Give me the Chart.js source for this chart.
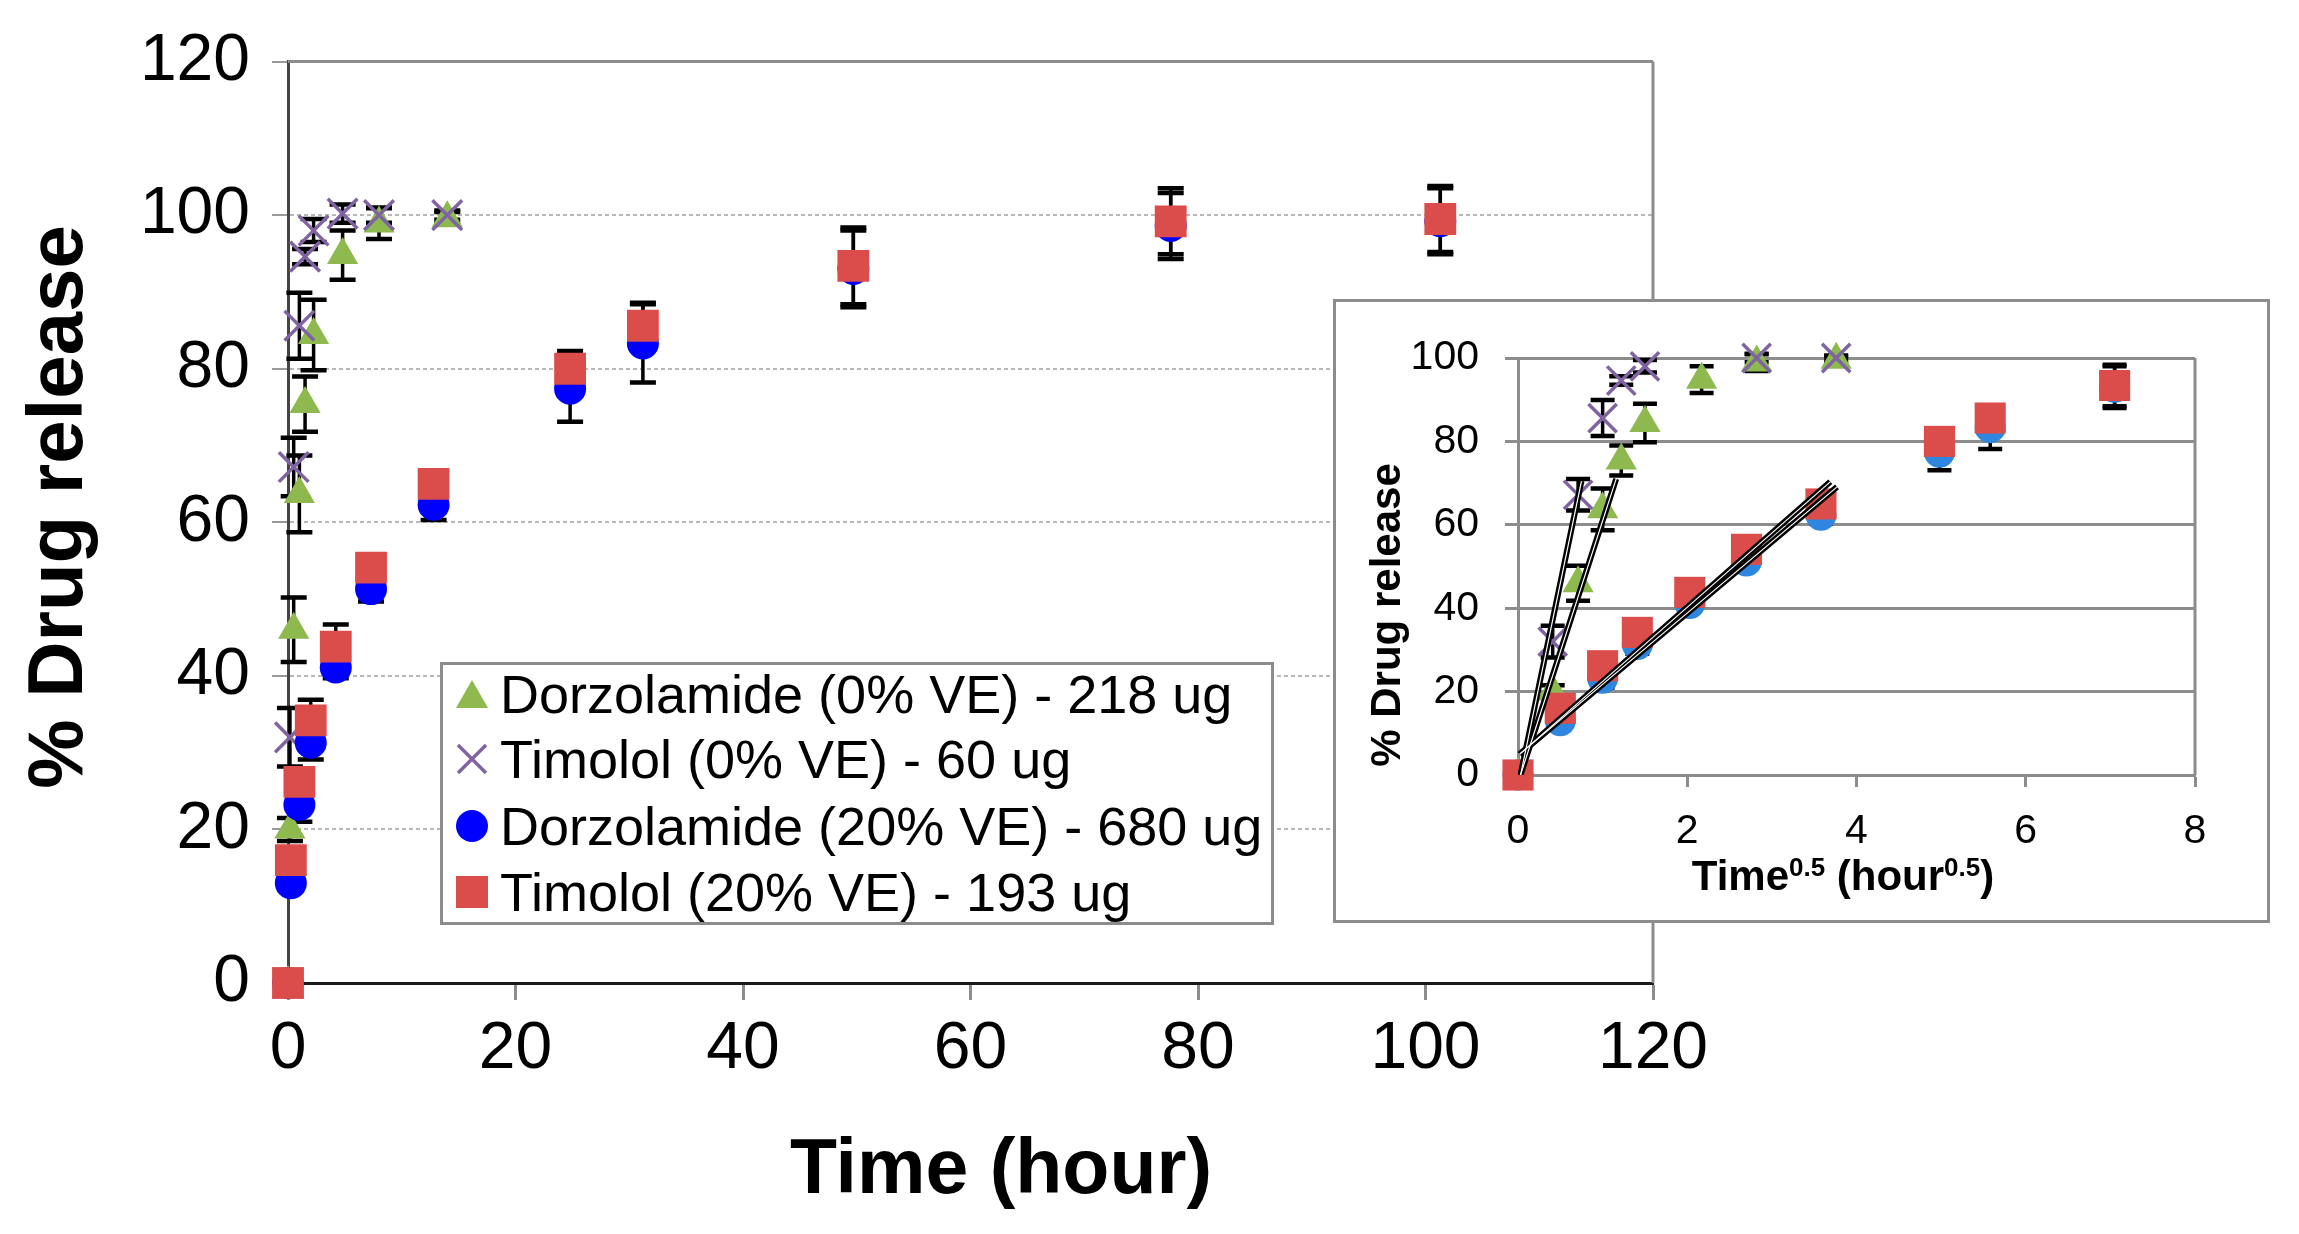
<!DOCTYPE html>
<html>
<head>
<meta charset="utf-8">
<title>% Drug release</title>
<script src="https://cdn.jsdelivr.net/npm/chart.js@4.4.1/dist/chart.umd.min.js"></script>
<style>
  html, body { margin: 0; padding: 0; background: #fff; }
  body { width: 2299px; height: 1234px; position: relative; overflow: hidden;
         font-family: "Liberation Sans", Arial, sans-serif; }
  #mainChart { position: absolute; left: 0; top: 0; }
  #insetBox { position: absolute; left: 1333px; top: 299px; width: 931px; height: 618px;
              border: 3px solid #8c8c8c; background: #fff; }
  #insetChart { display: block; }
  #legend { position: absolute; left: 440px; top: 662px; width: 828px; height: 257px;
            border: 3px solid #8c8c8c; background: #fff; }
  .row { position: absolute; left: 0; height: 66px; line-height: 66px; font-size: 54px;
         color: #000; white-space: nowrap; }
  .row svg { position: absolute; left: 11px; top: 15px; }
  .row span { position: absolute; left: 57px; }
</style>
</head>
<body>
<canvas id="mainChart" width="2299" height="1234"></canvas>
<div id="legend"></div>
<div id="insetBox"><canvas id="insetChart" width="931" height="618"></canvas></div>

<script>
// Series names (legend text)
const seriesNames = [
    'Dorzolamide (0% VE) - 218 ug',
    'Timolol (0% VE) - 60 ug',
    'Dorzolamide (20% VE) - 680 ug',
    'Timolol (20% VE) - 193 ug'
];

// 0% VE lenses: sampling times (hour)
const time0 = [0, 0.17, 0.5, 1, 1.5, 2.25, 4.8, 8, 14];
const dorzolamide0 = [0, 20, 46, 63.7, 75.4, 84.4, 94.8, 98.9, 99.6];
const dorzolamide0Err = [0, 1.5, 4.2, 5, 3.6, 4.6, 3.2, 2, 0.8];
const timolol0 = [0, 32, 67.2, 85.6, 94.6, 98, 100.2, 100, 100];
const timolol0Err = [0, 3.8, 3.8, 4.3, 1, 1.5, 1.2, 1, 0.6];

// 20% VE lenses: sampling times (hour)
const time20 = [0, 0.25, 1, 2, 4.2, 7.3, 12.8, 24.8, 31.2, 49.7, 77.6, 101.3];
const dorzolamide20 = [0, 13, 23.2, 31.3, 41.1, 51.3, 62.3, 77.4, 83.3, 93, 98.6, 99.2];
const dorzolamide20Err = [0, 1, 2.2, 2.2, 1.4, 1.6, 2, 4.3, 5.1, 5, 4.3, 4.3];
const timolol20 = [0, 16, 26.2, 34.2, 43.8, 54.1, 65, 80, 85.6, 93.4, 99.2, 99.5];
const timolol20Err = [0, 1, 1.5, 2.7, 2.9, 1, 1, 2.3, 3, 5, 4.3, 4.3];

// Inset: square-root time axis (hour^0.5)
const rootTime0 = [0, 0.41, 0.71, 1.0, 1.22, 1.5, 2.17, 2.82, 3.76];
const timolol0Inset = [0, 32, 67.2, 85.6, 94.6, 98, null, 100, 100];
const rootTime20 = [0, 0.5, 1.0, 1.41, 2.03, 2.7, 3.58, 4.98, 5.58, 7.05];

// Inset linear fits: [x, y] end points
const fitTimolol0 = [[0.03, 0], [0.75, 70.5]];
const fitDorzolamide0 = [[0.03, 0], [1.16, 71]];
const fitTimolol20 = [[0.02, 5], [3.69, 70.3]];
const fitDorzolamide20 = [[0.02, 5], [3.77, 69.1]];

// Axis ticks
const mainTicksX = [0, 120, 20];
const mainTicksY = [0, 120, 20];
const insetTicksX = [0, 8, 2];
const insetTicksY = [0, 100, 20];

const FONT = '"Liberation Sans", Arial, sans-serif';
const GREEN = '#8DB94E';
const PURPLE = '#8064A2';
const BLUE = '#0000FF';
const INSET_BLUE = '#2E86DE';
const RED = '#DB4D4B';

Chart.defaults.font.family = FONT;

// Build {x, y} points from two arrays
function points(xs, ys) {
    return xs.map((x, i) => ({ x: x, y: ys[i] }));
}

// Error bars drawn behind the markers
const errorBarPlugin = {
    id: 'errorBars',
    beforeDatasetsDraw(chart, args, opts) {
        const { ctx } = chart;
        const xs = chart.scales.x, ys = chart.scales.y;
        ctx.save();
        ctx.strokeStyle = '#000';
        chart.data.datasets.forEach(ds => {
            if (!ds.errorBars) return;
            ds.data.forEach((p, i) => {
                const e = ds.errorBars[i];
                if (p.y == null || !e) return;
                const px = xs.getPixelForValue(p.x);
                const top = ys.getPixelForValue(p.y + e);
                const bot = ys.getPixelForValue(p.y - e);
                ctx.lineWidth = opts.stem;
                ctx.beginPath();
                ctx.moveTo(px, top);
                ctx.lineTo(px, bot);
                ctx.stroke();
                ctx.lineWidth = opts.cap;
                ctx.beginPath();
                ctx.moveTo(px - opts.half, top);
                ctx.lineTo(px + opts.half, top);
                ctx.moveTo(px - opts.half, bot);
                ctx.lineTo(px + opts.half, bot);
                ctx.stroke();
            });
        });
        ctx.restore();
    }
};

// Top / right plot border lines
const framePlugin = {
    id: 'plotFrame',
    beforeDatasetsDraw(chart, args, opts) {
        const { ctx, chartArea: a } = chart;
        ctx.save();
        ctx.strokeStyle = opts.color;
        ctx.lineWidth = opts.width;
        ctx.beginPath();
        if (opts.top) {
            ctx.moveTo(a.left, a.top);
            ctx.lineTo(a.right, a.top);
        }
        ctx.moveTo(a.right, a.top);
        ctx.lineTo(a.right, a.bottom);
        ctx.stroke();
        ctx.restore();
    }
};

// Axis titles (allow superscripts and free placement)
const axisTitlePlugin = {
    id: 'axisTitles',
    afterDraw(chart, args, opts) {
        const ctx = chart.ctx;
        (opts.items || []).forEach(item => {
            ctx.save();
            ctx.translate(item.x, item.y);
            ctx.rotate(item.rotate || 0);
            ctx.fillStyle = '#000';
            ctx.textBaseline = 'alphabetic';
            let total = 0;
            item.parts.forEach(p => {
                ctx.font = p.font;
                total += ctx.measureText(p.text).width;
            });
            let cx = -total / 2;
            item.parts.forEach(p => {
                ctx.font = p.font;
                ctx.fillText(p.text, cx, -(p.rise || 0));
                cx += ctx.measureText(p.text).width;
            });
            ctx.restore();
        });
    }
};

// Main chart
new Chart(document.getElementById('mainChart'), {
    type: 'scatter',
    data: {
        datasets: [
            {
                label: seriesNames[3], data: points(time20, timolol20), errorBars: timolol20Err,
                order: 1, pointStyle: 'rect', pointRadius: 22.5,
                backgroundColor: RED, borderColor: RED, borderWidth: 0, clip: false
            },
            {
                label: seriesNames[2], data: points(time20, dorzolamide20), errorBars: dorzolamide20Err,
                order: 2, pointStyle: 'circle', pointRadius: 16,
                backgroundColor: BLUE, borderColor: BLUE, borderWidth: 0, clip: false
            },
            {
                label: seriesNames[1], data: points(time0, timolol0), errorBars: timolol0Err,
                order: 3, pointStyle: 'crossRot', pointRadius: 21,
                backgroundColor: PURPLE, borderColor: PURPLE, borderWidth: 3.5, clip: false
            },
            {
                label: seriesNames[0], data: points(time0, dorzolamide0), errorBars: dorzolamide0Err,
                order: 4, pointStyle: 'triangle', pointRadius: 18,
                backgroundColor: GREEN, borderColor: GREEN, borderWidth: 0, clip: false
            }
        ]
    },
    options: {
        responsive: false,
        devicePixelRatio: 1,
        animation: false,
        layout: { padding: { top: 57, right: 646, left: 0, bottom: 0 } },
        plugins: {
            legend: { display: false },
            tooltip: { enabled: false },
            errorBars: { stem: 3.5, cap: 4.5, half: 13 },
            plotFrame: { top: true, color: '#8c8c8c', width: 3 },
            axisTitles: {
                items: [
                    { x: 1001, y: 1193, parts: [{ text: 'Time (hour)', font: 'bold 77px ' + FONT }] },
                    { x: 82, y: 507, rotate: -Math.PI / 2,
                      parts: [{ text: '% Drug release', font: 'bold 78px ' + FONT }] }
                ]
            }
        },
        scales: {
            x: {
                type: 'linear', min: mainTicksX[0], max: mainTicksX[1],
                ticks: { stepSize: mainTicksX[2], color: '#000', font: { size: 66 }, padding: 10, maxRotation: 0 },
                grid: { drawOnChartArea: false, tickLength: 17, tickColor: '#8c8c8c', tickWidth: 3 },
                border: { color: '#1a1a1a', width: 3 },
                afterFit: s => { s.height = 251; }
            },
            y: {
                type: 'linear', min: mainTicksY[0], max: mainTicksY[1],
                ticks: { stepSize: mainTicksY[2], color: '#000', font: { size: 66 }, padding: 22 },
                grid: { color: '#b8b8b8', lineWidth: 2, tickLength: 16, tickColor: '#9a9a9a', tickWidth: 2 },
                border: { color: '#444', width: 3, dash: [4, 3] },
                afterFit: s => { s.width = 288; }
            }
        }
    },
    plugins: [errorBarPlugin, framePlugin, axisTitlePlugin]
});

// Inset chart (square-root time)
const fitStyle = (pts, width, color, order) => ({
    type: 'line', data: pts.map(p => ({ x: p[0], y: p[1] })), showLine: true,
    borderColor: color, borderWidth: width, pointRadius: 0, order: order, fill: false
});

new Chart(document.getElementById('insetChart'), {
    type: 'scatter',
    data: {
        datasets: [
            fitStyle(fitTimolol0, 1.2, '#fff', 0),
            fitStyle(fitDorzolamide0, 1.2, '#fff', 0),
            fitStyle(fitTimolol20, 1.2, '#fff', 0),
            fitStyle(fitDorzolamide20, 1.2, '#fff', 0),
            fitStyle(fitTimolol0, 6, '#000', 1),
            fitStyle(fitDorzolamide0, 6, '#000', 1),
            fitStyle(fitTimolol20, 6, '#000', 1),
            fitStyle(fitDorzolamide20, 6, '#000', 1),
            {
                data: points(rootTime20, timolol20), errorBars: timolol20Err,
                order: 2, pointStyle: 'rect', pointRadius: 22,
                backgroundColor: RED, borderColor: RED, borderWidth: 0, clip: false
            },
            {
                data: points(rootTime20, dorzolamide20), errorBars: dorzolamide20Err,
                order: 3, pointStyle: 'circle', pointRadius: 15.5,
                backgroundColor: INSET_BLUE, borderColor: INSET_BLUE, borderWidth: 0, clip: false
            },
            {
                data: points(rootTime0, timolol0Inset), errorBars: timolol0Err,
                order: 4, pointStyle: 'crossRot', pointRadius: 20,
                backgroundColor: PURPLE, borderColor: PURPLE, borderWidth: 3.5, clip: false
            },
            {
                data: points(rootTime0, dorzolamide0), errorBars: dorzolamide0Err,
                order: 5, pointStyle: 'triangle', pointRadius: 18,
                backgroundColor: GREEN, borderColor: GREEN, borderWidth: 0, clip: false
            }
        ]
    },
    options: {
        responsive: false,
        devicePixelRatio: 1,
        animation: false,
        layout: { padding: { top: 56, right: 72, left: 0, bottom: 0 } },
        plugins: {
            legend: { display: false },
            tooltip: { enabled: false },
            errorBars: { stem: 3.5, cap: 4.5, half: 12 },
            plotFrame: { top: false, color: '#8c8c8c', width: 3 },
            axisTitles: {
                items: [
                    { x: 507, y: 588, parts: [
                        { text: 'Time', font: 'bold 42px ' + FONT },
                        { text: '0.5', font: 'bold 26px ' + FONT, rise: 14 },
                        { text: ' (hour', font: 'bold 42px ' + FONT },
                        { text: '0.5', font: 'bold 26px ' + FONT, rise: 14 },
                        { text: ')', font: 'bold 42px ' + FONT }
                    ] },
                    { x: 64, y: 313, rotate: -Math.PI / 2,
                      parts: [{ text: '% Drug release', font: 'bold 42px ' + FONT }] }
                ]
            }
        },
        scales: {
            x: {
                type: 'linear', min: insetTicksX[0], max: insetTicksX[1],
                ticks: { stepSize: insetTicksX[2], color: '#000', font: { size: 41 }, padding: 20, maxRotation: 0 },
                grid: { drawOnChartArea: false, tickLength: 12, tickColor: '#8c8c8c', tickWidth: 3 },
                border: { color: '#8c8c8c', width: 3 },
                afterFit: s => { s.height = 145; }
            },
            y: {
                type: 'linear', min: insetTicksY[0], max: insetTicksY[1],
                ticks: { stepSize: insetTicksY[2], color: '#000', font: { size: 41 }, padding: 26 },
                grid: { color: '#8c8c8c', lineWidth: 3, tickLength: 13, tickColor: '#8c8c8c', tickWidth: 3 },
                border: { color: '#8c8c8c', width: 3 },
                afterFit: s => { s.width = 182; }
            }
        }
    },
    plugins: [errorBarPlugin, framePlugin, axisTitlePlugin]
});

// HTML legend (markers match the dataset point styles)
const legendMarkers = [
    `<svg width="36" height="36"><polygon points="18,4 34,32 2,32" fill="${GREEN}"/></svg>`,
    `<svg width="36" height="36"><path d="M4,4 L32,32 M32,4 L4,32" stroke="${PURPLE}" stroke-width="3.5"/></svg>`,
    `<svg width="36" height="36"><circle cx="18" cy="18" r="16" fill="${BLUE}"/></svg>`,
    `<svg width="36" height="36"><rect x="2" y="2" width="32" height="32" fill="${RED}"/></svg>`
];
const legendRowTops = [-4, 61, 128, 194];
const legend = document.getElementById('legend');
seriesNames.forEach((name, i) => {
    const row = document.createElement('div');
    row.className = 'row';
    row.style.top = legendRowTops[i] + 'px';
    row.innerHTML = legendMarkers[i] + '<span>' + name + '</span>';
    legend.appendChild(row);
});
</script>
</body>
</html>
